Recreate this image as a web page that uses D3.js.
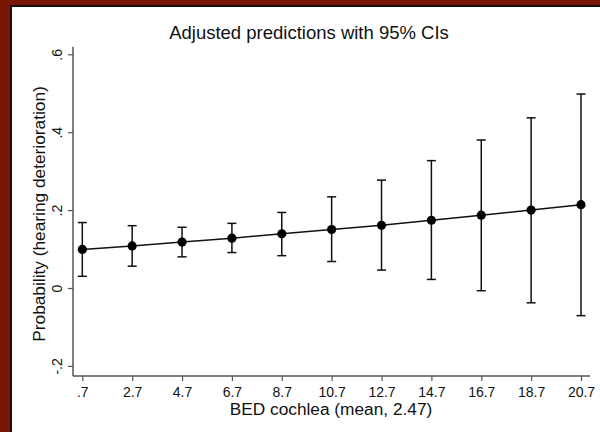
<!DOCTYPE html>
<html><head><meta charset="utf-8">
<script src="https://cdn.jsdelivr.net/npm/d3@7"></script>
<style>body{margin:0;padding:0;background:#fff;}svg{display:block;}</style>
</head><body>
<script>
const bed = [0.7, 2.7, 4.7, 6.7, 8.7, 10.7, 12.7, 14.7, 16.7, 18.7, 20.7];
const xTickLabels = [".7","2.7","4.7","6.7","8.7","10.7","12.7","14.7","16.7","18.7","20.7"];
const prob  = [0.099, 0.108, 0.118, 0.128, 0.139, 0.150, 0.161, 0.174, 0.187, 0.200, 0.214];
const ciLow = [0.030, 0.056, 0.080, 0.091, 0.083, 0.068, 0.046, 0.022, -0.007, -0.038, -0.071];
const ciHigh= [0.168, 0.160, 0.156, 0.166, 0.194, 0.234, 0.277, 0.327, 0.380, 0.437, 0.498];
const yTicks = [-0.2, 0, 0.2, 0.4, 0.6];
const yTickLabels = ["-.2","0",".2",".4",".6"];

const W = 600, H = 432;
const svg = d3.select("body").append("svg").attr("width", W).attr("height", H);
// frame
svg.append("rect").attr("x",0).attr("y",0).attr("width",W).attr("height",H).attr("fill","#7a1606");
svg.append("rect").attr("x",10).attr("y",5).attr("width",W).attr("height",H).attr("fill","#111");
svg.append("rect").attr("x",12).attr("y",7).attr("width",W).attr("height",H).attr("fill","#fff");

const x = d3.scaleLinear().domain([0.7, 20.7]).range([82.3, 581]);
const y = d3.scaleLinear().domain([0, 0.6]).range([288, 54.3]);
const xL = 73, xR = 590, yT = 46.7, yB = 376;

const font = "'Liberation Sans', Arial, Helvetica, sans-serif";
const axisColor = "#555";

// x axis
const gx = svg.append("g").attr("transform", `translate(0,${yB})`)
  .call(d3.axisBottom(x).tickValues(bed).tickFormat((d,i)=>xTickLabels[i]).tickSize(5));
gx.select(".domain").attr("d", `M${xL},0H${xR}`).attr("stroke", axisColor).attr("stroke-width",1.5);
gx.selectAll(".tick line").attr("stroke", axisColor).attr("stroke-width",1.2);
gx.selectAll(".tick text").attr("font-family", font).attr("font-size", 14).attr("fill","#111")
  .attr("y", 20.5).attr("dy", 0);

// y axis
const gy = svg.append("g").attr("transform", `translate(${xL},0)`)
  .call(d3.axisLeft(y).tickValues(yTicks).tickFormat((d,i)=>yTickLabels[i]).tickSize(5));
gy.select(".domain").attr("d", `M0,${yT}V${yB}`).attr("stroke", axisColor).attr("stroke-width",1.5);
gy.selectAll(".tick line").attr("stroke", axisColor).attr("stroke-width",1.2);
gy.selectAll(".tick text").attr("font-family", font).attr("font-size", 14).attr("fill","#111")
  .attr("x", -11).attr("dy", 0).attr("text-anchor","middle")
  .attr("transform", "rotate(-90,-11,0)");

// error bars
const capW = 4.5;
const eb = svg.append("g").attr("stroke","#111").attr("stroke-width",1.5).attr("fill","none");
bed.forEach((b,i)=>{
  const cx = x(b);
  eb.append("line").attr("x1",cx).attr("x2",cx).attr("y1",y(ciLow[i])).attr("y2",y(ciHigh[i]));
  eb.append("line").attr("x1",cx-capW).attr("x2",cx+capW).attr("y1",y(ciLow[i])).attr("y2",y(ciLow[i]));
  eb.append("line").attr("x1",cx-capW).attr("x2",cx+capW).attr("y1",y(ciHigh[i])).attr("y2",y(ciHigh[i]));
});

// line
const line = d3.line().x((d,i)=>x(bed[i])).y(d=>y(d));
svg.append("path").datum(prob).attr("d", line).attr("fill","none").attr("stroke","#111").attr("stroke-width",1.5);

// markers
svg.append("g").selectAll("circle").data(prob).join("circle")
  .attr("cx",(d,i)=>x(bed[i])).attr("cy",d=>y(d)).attr("r",4.6).attr("fill","#000");

// titles
svg.append("text").attr("x",309).attr("y",39).attr("text-anchor","middle")
  .attr("font-family",font).attr("font-size",18.5).attr("fill","#111")
  .text("Adjusted predictions with 95% CIs");
svg.append("text").attr("x",331).attr("y",415).attr("text-anchor","middle")
  .attr("font-family",font).attr("font-size",17.3).attr("fill","#111")
  .text("BED cochlea (mean, 2.47)");
svg.append("text").attr("transform","translate(45,214) rotate(-90)").attr("text-anchor","middle")
  .attr("font-family",font).attr("font-size",17.3).attr("fill","#111")
  .text("Probability (hearing deterioration)");
</script>
</body></html>
